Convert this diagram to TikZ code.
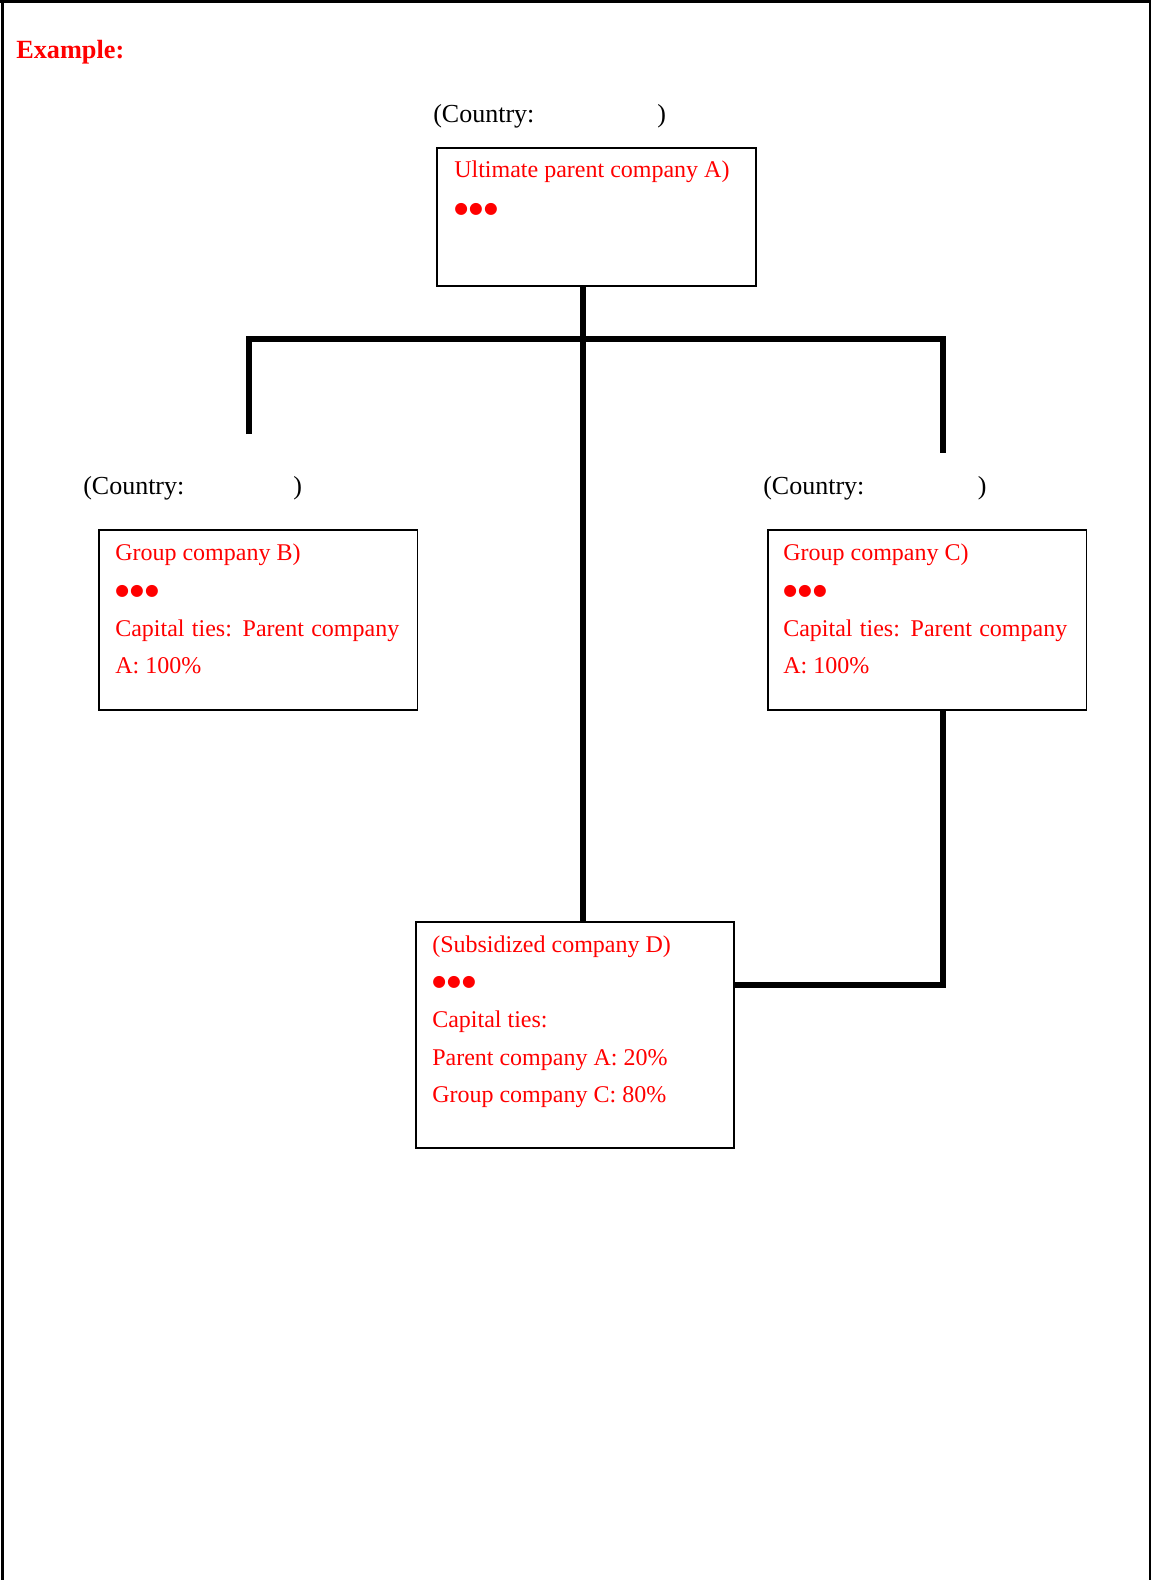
\documentclass[tikz,border=0pt]{standalone}
\usepackage{fontspec}
\setmainfont{Liberation Serif}
\newfontfamily\dotfont{DejaVu Sans}
\definecolor{tred}{RGB}{255,0,0}
\newcommand{\tripledot}{●\kern0.9pt●\kern0.9pt●}
\begin{document}
\begin{tikzpicture}[x=0.75pt,y=-0.75pt,
  box/.style={draw=black, line width=1.2pt, inner sep=0pt, anchor=north west},
  rtext/.style={text=tred, font=\fontsize{18}{20}\selectfont, anchor=base west, inner sep=0pt},
  ctext/.style={text=black, font=\fontsize{19.5}{22}\selectfont, anchor=base west, inner sep=0pt},
  dotline/.style={text=tred, font=\dotfont\fontsize{11.8}{14}\selectfont, anchor=west, inner sep=0pt},
  link/.style={line width=4.5pt},
  frame/.style={black}]
\useasboundingbox (0,0) rectangle (1151,1580);
% page frame
\draw[frame, line width=2.25pt] (0,1.2) -- (1151,1.2);
\draw[frame, line width=2.25pt] (2.8,0) -- (2.8,1580);
\draw[frame, line width=0.9pt] (1150,0) -- (1150,1580);

\node[anchor=base west, inner sep=0pt, text=tred, font=\bfseries\fontsize{19.7}{22}\selectfont] (ex) at (16,59) {Example:};

% boxes
\node[box, minimum width=239.25pt, minimum height=103.5pt] (A) at (436,147) {};
\node[box, minimum width=239pt, minimum height=135pt] (B) at (98,529) {};
\node[box, minimum width=239pt, minimum height=135pt] (C) at (767,529) {};
\node[box, minimum width=238.5pt, minimum height=169.5pt] (D) at (415,921) {};

% country labels
\node[ctext] (cA) at (433,123) {\makebox[168pt][l]{(Country:})};
\node[ctext] (cB) at (83,494) {\makebox[157.5pt][l]{(Country:})};
\node[ctext] (cC) at (763,494) {\makebox[161pt][l]{(Country:})};

% A text
\node[rtext] (a1) at (454,178) {Ultimate parent company A)};
\node[dotline] (a2) at (454,209) {\tripledot};

% B text
\node[rtext] (b1) at (115,560) {Group company B)};
\node[dotline] (b2) at (115,591) {\tripledot};
\node[rtext] (b3) at (115,636) {\makebox[213pt][s]{Capital ties: Parent company}};
\node[rtext] (b4) at (115,673) {A: 100\%};

% C text
\node[rtext] (c1) at (783,560) {Group company C)};
\node[dotline] (c2) at (783,591) {\tripledot};
\node[rtext] (c3) at (783,636) {\makebox[213pt][s]{Capital ties: Parent company}};
\node[rtext] (c4) at (783,673) {A: 100\%};

% D text
\node[rtext] (d1) at (432,952) {(Subsidized company D)};
\node[dotline] (d2) at (432,982) {\tripledot};
\node[rtext] (d3) at (432,1027) {Capital ties:};
\node[rtext] (d4) at (432,1065) {Parent company A: 20\%};
\node[rtext] (d5) at (432,1102) {Group company C: 80\%};

% connectors
\coordinate (hub) at (583,338.7);
\coordinate (bdrop) at (249,434);
\coordinate (cdrop) at (943,453);
\coordinate (cd) at (943,985);
\draw[link] (A.south -| hub) -- (D.north -| hub);
\draw[link] (bdrop) |- (hub) -| (cdrop);
\draw[link] (C.south -| cd) |- (D.east |- cd);
\end{tikzpicture}
\end{document}
